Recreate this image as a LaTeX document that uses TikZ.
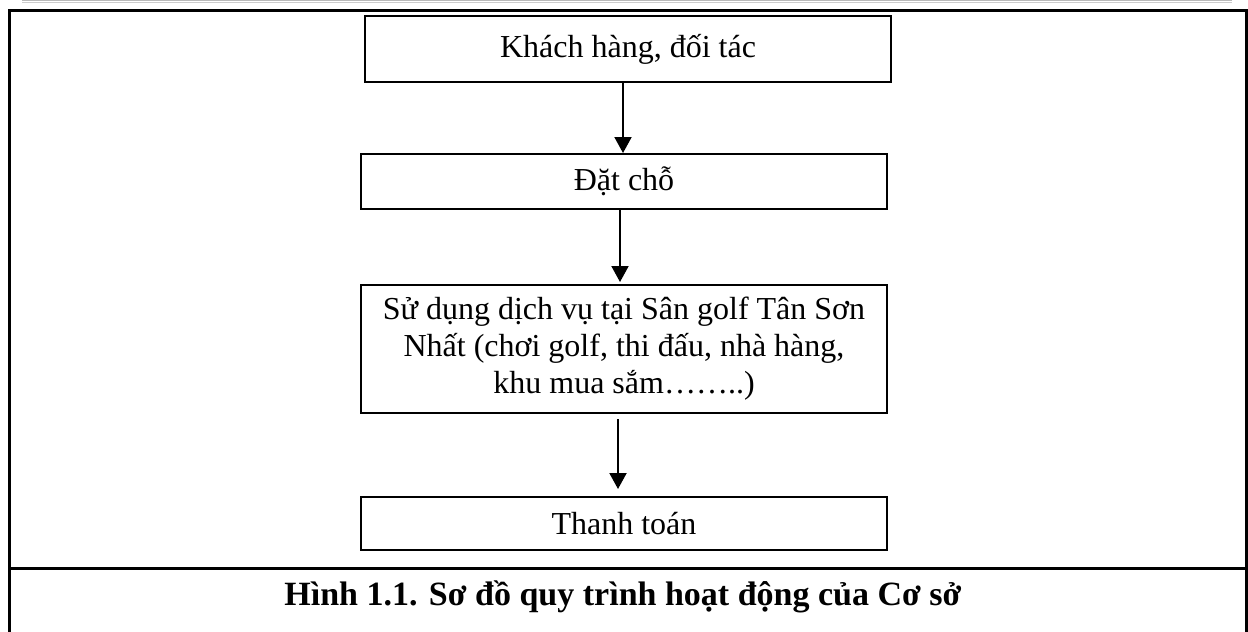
\documentclass[tikz,border=0pt]{standalone}
\usepackage{fontspec}
\setmainfont{Liberation Serif}
\usetikzlibrary{arrows.meta}
\begin{document}
\begin{tikzpicture}[x=0.5pt,y=-0.5pt,
  stepbox/.style={draw=black,line width=1pt,minimum width=263pt,inner sep=0pt,
    font=\fontsize{16pt}{18.5pt}\selectfont,align=center},
  flow/.style={line width=1pt,-{Triangle[width=8.5pt,length=8pt]}},
  frame/.style={line width=1.5pt},
  caption/.style={font=\fontsize{17pt}{20pt}\selectfont\bfseries}]
  \useasboundingbox (0,0) rectangle (1248,632);
  % header rule
  \draw[gray!55,line width=0.6pt] (22,0.6) -- (1232,0.6);
  \draw[gray!40,line width=0.6pt] (22,2.6) -- (1232,2.6);
  % outer frame and caption separator
  \draw[frame] (9,640) -- (9,10.5) -- (1246.5,10.5) -- (1246.5,640);
  \draw[frame] (9,568) -- (1246.5,568);
  % process steps
  \node[stepbox,minimum height=33pt] (khach) at (628,49) {Khách hàng, đối tác};
  \node[stepbox,minimum height=27.5pt] (datcho) at (624,181.5) {Đặt chỗ};
  \node[stepbox,minimum height=64pt] (sudung) at (624,349)
    {Sử dụng dịch vụ tại Sân golf Tân Sơn\\Nhất (chơi golf, thi đấu, nhà hàng,\\khu mua sắm……..)};
  \node[stepbox,minimum height=26.5pt] (thanhtoan) at (624,523.5) {Thanh toán};
  % connectors
  \draw[flow] ([xshift=-2.5pt]khach.south) -- ([xshift=-0.5pt]datcho.north);
  \draw[flow] ([xshift=-2pt]datcho.south) -- ([xshift=-2pt,yshift=1pt]sudung.north);
  \draw[flow] ([xshift=-3pt,yshift=-2.5pt]sudung.south) -- ([xshift=-3pt,yshift=3.5pt]thanhtoan.north);
  % caption
  \node[caption] (cap) at (623,597) {Hình 1.1. Sơ đồ quy trình hoạt động của Cơ sở};
\end{tikzpicture}
\end{document}
